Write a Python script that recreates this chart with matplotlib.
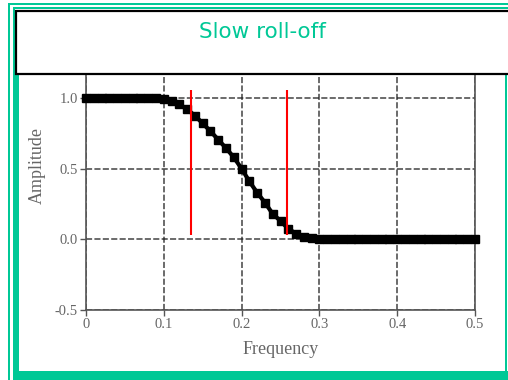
import matplotlib
matplotlib.use('Agg')
import matplotlib.pyplot as plt
from matplotlib.patches import Rectangle

# ---------------- data ----------------
freq = [0.00, 0.01, 0.02, 0.03, 0.04, 0.05, 0.06, 0.07, 0.08, 0.09,
        0.10, 0.11, 0.12, 0.13, 0.14, 0.15, 0.16, 0.17, 0.18, 0.19,
        0.20, 0.21, 0.22, 0.23, 0.24, 0.25, 0.26, 0.27, 0.28, 0.29,
        0.30, 0.31, 0.32, 0.33, 0.34, 0.35, 0.36, 0.37, 0.38, 0.39,
        0.40, 0.41, 0.42, 0.43, 0.44, 0.45, 0.46, 0.47, 0.48, 0.49,
        0.50]
amplitude = [1.0, 1.0, 1.0, 1.0, 1.0, 1.0, 1.0, 1.0, 1.0, 1.0,
             0.995, 0.98, 0.955, 0.92, 0.875, 0.82, 0.765, 0.705, 0.645, 0.58,
             0.50, 0.41, 0.33, 0.26, 0.18, 0.13, 0.075, 0.04, 0.02, 0.008,
             0.0, 0.0, 0.0, 0.0, 0.0, 0.0, 0.0, 0.0, 0.0, 0.0,
             0.0, 0.0, 0.0, 0.0, 0.0, 0.0, 0.0, 0.0, 0.0, 0.0,
             0.0]
marker_freqs = [0.135, 0.258]
marker_lo = 0.028
marker_hi = 1.057
xticks = [0.0, 0.1, 0.2, 0.3, 0.4, 0.5]
xtick_labels = ['0', '0.1', '0.2', '0.3', '0.4', '0.5']
yticks = [-0.5, 0.0, 0.5, 1.0]
ytick_labels = ['-0.5', '0.0', '0.5', '1.0']
title = 'Slow roll-off'
xlabel = 'Frequency'
ylabel = 'Amplitude'

# ---------------- figure ----------------
W, H = 508, 380
fig = plt.figure(figsize=(W / 100, H / 100), dpi=100)
fig.patch.set_facecolor('white')

GREEN = '#00c896'


def rect(x0, y0, x1, y1, **kw):
    return Rectangle((x0 / W, 1 - y1 / H), (x1 - x0) / W, (y1 - y0) / H,
                     transform=fig.transFigure, **kw)


# frame (pixel coords, origin top-left)
fig.add_artist(rect(8, 3.3, 520, 390, facecolor=GREEN, edgecolor='none', zorder=-10))
fig.add_artist(rect(10, 5.3, 520, 390, facecolor='white', edgecolor='none', zorder=-9))
fig.add_artist(rect(12.7, 7.3, 520, 390, facecolor=GREEN, edgecolor='none', zorder=-8))
fig.add_artist(rect(14.7, 9.3, 520, 75, facecolor='white', edgecolor='none', zorder=-7))
fig.add_artist(rect(19.3, 75, 505, 371, facecolor='white', edgecolor='none', zorder=-7))
fig.add_artist(rect(507, 75, 520, 371, facecolor='white', edgecolor='none', zorder=-7))

# axes
ax_l, ax_r, ax_b, ax_t = 86, 475, 310, 75
ax = fig.add_axes([ax_l / W, 1 - ax_b / H, (ax_r - ax_l) / W, (ax_b - ax_t) / H])
ax.set_facecolor('white')
ax.set_xlim(0, 0.5)
ax.set_ylim(-0.5, 1.0 + (98 - ax_t) / ((ax_b - 98) / 1.5))

ax.set_xticks(xticks)
ax.set_xticklabels(xtick_labels)
ax.set_yticks(yticks)
ax.set_yticklabels(ytick_labels)

for lab in ax.get_xticklabels() + ax.get_yticklabels():
    lab.set_fontfamily('Liberation Serif')
    lab.set_fontsize(10.5)
    lab.set_color('#666666')
ax.tick_params(axis='both', direction='out', length=4, width=1.0,
               color='#555555', pad=2)

for s in ['left', 'bottom', 'right']:
    ax.spines[s].set_color('#555555')
    ax.spines[s].set_linewidth(1.2)
ax.spines['top'].set_visible(False)

ax.grid(True, color='#222222', linestyle=(0, (4, 1.5)), linewidth=1.1, alpha=0.85)
ax.set_axisbelow(True)

ax.plot(freq, amplitude, color='black', marker='s', markersize=5.6,
        linewidth=3, clip_on=False, zorder=3)
ax.vlines(marker_freqs, marker_lo, marker_hi, color='#ff0000', linewidth=1.5, zorder=4)

fig.text((ax_l + ax_r) / 2 / W, 1 - 350 / H, xlabel, ha='center', va='center',
         fontfamily='Liberation Serif', fontsize=13, color='#666666')
fig.text(37 / W, 1 - 165 / H, ylabel, ha='center', va='center', rotation=90,
         fontfamily='Liberation Serif', fontsize=13, color='#666666')

# title box
fig.add_artist(rect(15.7, 11, 530, 74, facecolor='white', edgecolor='black',
                    linewidth=1.6, zorder=5))
fig.text(262 / W, 1 - 32 / H, title, ha='center', va='center',
         fontfamily='DejaVu Sans', fontsize=15.5, color=GREEN, zorder=6)

fig.savefig('out.png', dpi=100)
